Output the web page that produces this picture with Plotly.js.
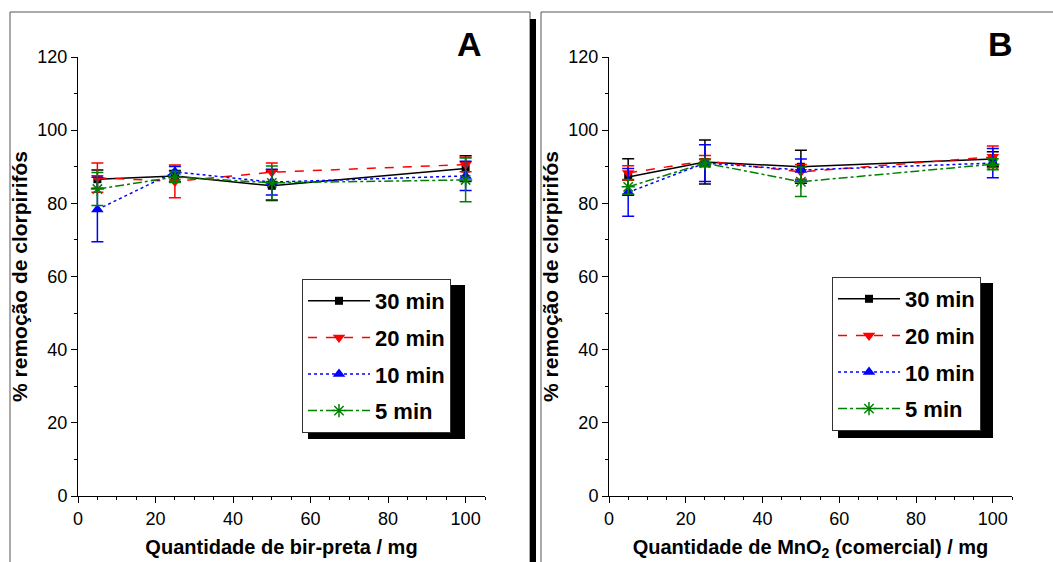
<!DOCTYPE html>
<html><head><meta charset="utf-8">
<script src="https://cdn.plot.ly/plotly-3.0.1.min.js"></script>
<style>html,body{margin:0;padding:0;background:#fff}#g{width:1053px;height:562px}</style>
</head><body><div id="g"></div>
<script>
// ---- data ----
const quantities = [5, 25, 50, 100];
const seriesNames = ['30 min', '20 min', '10 min', '5 min'];

// Panel A: bir-preta
const A_30 = [86.6, 87.5, 84.8, 89.5];
const A_30_err = [2.5, 1.5, 4.0, 3.5];
const A_20 = [87.0, 86.0, 88.5, 90.6];
const A_20_err = [4.0, 4.5, 2.5, 2.0];
const A_10 = [78.3, 88.6, 85.8, 87.5];
const A_10_err = [8.8, 1.5, 3.5, 4.0];
const A_5 = [83.9, 87.2, 85.6, 86.4];
const A_5_err = [4.5, 1.5, 4.6, 6.0];

// Panel B: MnO2 (comercial)
const B_30 = [87.2, 91.3, 90.0, 92.1];
const B_30_err = [5.0, 6.0, 4.5, 2.0];
const B_20 = [88.3, 91.6, 88.6, 92.7];
const B_20_err = [2.0, 1.5, 2.0, 3.0];
const B_10 = [83.0, 91.0, 89.1, 91.0];
const B_10_err = [6.5, 5.0, 3.0, 4.0];
const B_5 = [84.5, 91.0, 85.9, 90.7];
const B_5_err = [2.0, 1.0, 4.0, 1.5];

const xTickVals = [0, 20, 40, 60, 80, 100];
const yTickVals = [0, 20, 40, 60, 80, 100, 120];

// ---- styles ----
const styles = [
  {color: '#000000', dash: 'solid', symbol: 'square', size: 8},
  {color: '#ff0000', dash: 'dash', symbol: 'triangle-down', size: 11},
  {color: '#0000ff', dash: 'dot', symbol: 'triangle-up', size: 11},
  {color: '#008000', dash: 'dashdot', symbol: 'asterisk-open', size: 11}
];

function mk(name, y, err, st, xa, ya, legend, grp) {
  return {
    type: 'scatter', mode: 'lines+markers', name: name,
    x: quantities, y: y, xaxis: xa, yaxis: ya, legend: legend, legendgroup: grp,
    line: {color: st.color, dash: st.dash, width: 1.5},
    marker: {color: st.color, symbol: st.symbol, size: st.size,
             line: {color: st.color, width: st.symbol === 'asterisk-open' ? 1.5 : 0}},
    error_y: {type: 'data', array: err, visible: true, color: st.color, thickness: 1.5, width: 6}
  };
}

const Aser = [[A_30, A_30_err], [A_20, A_20_err], [A_10, A_10_err], [A_5, A_5_err]];
const Bser = [[B_30, B_30_err], [B_20, B_20_err], [B_10, B_10_err], [B_5, B_5_err]];
const data = [];
Aser.forEach((s, i) => data.push(mk(seriesNames[i], s[0], s[1], styles[i], 'x', 'y', 'legend', 'a' + i)));
Bser.forEach((s, i) => data.push(mk(seriesNames[i], s[0], s[1], styles[i], 'x2', 'y2', 'legend2', 'b' + i)));

const W = 1053, H = 562;
const px = v => v / W, py = v => 1 - v / H;
const FONT = 'Liberation Sans, Arial, sans-serif';
const tickFont = {family: FONT, size: 18, color: '#000'};

function xMain(domain, anchor, title) {
  return {
    domain: domain, anchor: anchor, range: [0, 105], tickvals: xTickVals,
    ticks: 'outside', ticklen: 6, tickwidth: 1, tickcolor: '#000',
    minor: {dtick: 5, ticks: 'outside', ticklen: 3, tickcolor: '#000'},
    showline: true, linecolor: '#000', linewidth: 1, showgrid: false, zeroline: false,
    tickfont: tickFont,
    title: {text: title, font: {family: FONT, size: 20, color: '#000', weight: 'bold'}, standoff: 12}
  };
}
function yMain(domain, anchor) {
  return {
    domain: domain, anchor: anchor, range: [0, 120], tickvals: yTickVals,
    ticks: 'outside', ticklen: 6, tickwidth: 1, tickcolor: '#000',
    minor: {dtick: 10, ticks: 'outside', ticklen: 3, tickcolor: '#000'},
    showline: true, linecolor: '#000', linewidth: 1, showgrid: false, zeroline: false,
    tickfont: tickFont,
    title: {text: '% remoção de clorpirifós', font: {family: FONT, size: 21, color: '#000', weight: 'bold'}, standoff: 4}
  };
}
function xTop(over, anchor) {
  return {overlaying: over, anchor: anchor, side: 'top', range: [0, 105], dtick: 5, tick0: 0,
    ticks: 'inside', ticklen: 3, tickcolor: '#000', showticklabels: false,
    showline: true, linecolor: '#000', linewidth: 1, showgrid: false, zeroline: false};
}
function yRight(over, anchor) {
  return {overlaying: over, anchor: anchor, side: 'right', range: [0, 120], dtick: 10, tick0: 0,
    ticks: 'inside', ticklen: 4, tickcolor: '#000', showticklabels: false,
    showline: true, linecolor: '#000', linewidth: 1, showgrid: false, zeroline: false};
}

const yDom = [(H - 496) / H, (H - 57) / H];
const legendStyle = (x, y) => ({
  x: x, y: y, xanchor: 'left', yanchor: 'top', bgcolor: '#fff',
  bordercolor: '#333', borderwidth: 1, tracegroupgap: 5, itemwidth: 62,
  font: {family: FONT, size: 22, color: '#000', weight: 'bold'}
});

const layout = {
  width: W, height: H, margin: {l: 0, r: 0, t: 0, b: 0},
  paper_bgcolor: '#fff', plot_bgcolor: 'rgba(0,0,0,0)', showlegend: true,
  xaxis: xMain([px(78), px(485)], 'y', 'Quantidade de bir-preta / mg'),
  yaxis: yMain(yDom, 'x'),
  xaxis2: xMain([px(609), px(1012)], 'y2', 'Quantidade de MnO<sub>2</sub> (comercial) / mg'),
  yaxis2: yMain(yDom, 'x2'),
  xaxis3: xTop('x', 'y'),
  yaxis3: yRight('y', 'x'),
  xaxis4: xTop('x2', 'y2'),
  yaxis4: yRight('y2', 'x2'),
  legend: legendStyle(px(302), py(279)),
  legend2: legendStyle(px(832), py(277)),
  shapes: [
    // panel frames
    {type: 'rect', xref: 'paper', yref: 'paper', x0: px(10), x1: px(530), y0: -0.1, y1: py(12),
     line: {color: '#555', width: 1}, fillcolor: 'rgba(0,0,0,0)', layer: 'below'},
    {type: 'rect', xref: 'paper', yref: 'paper', x0: px(530), x1: px(536), y0: -0.1, y1: py(19),
     line: {width: 0}, fillcolor: '#000', layer: 'below'},
    {type: 'rect', xref: 'paper', yref: 'paper', x0: px(541), x1: 1.1, y0: -0.1, y1: py(12),
     line: {color: '#555', width: 1}, fillcolor: 'rgba(0,0,0,0)', layer: 'below'},
    // legend shadows
    {type: 'rect', xref: 'paper', yref: 'paper', x0: px(308), x1: px(465), y0: py(439), y1: py(285),
     line: {width: 0}, fillcolor: '#000', layer: 'above'},
    {type: 'rect', xref: 'paper', yref: 'paper', x0: px(838), x1: px(993), y0: py(438), y1: py(283),
     line: {width: 0}, fillcolor: '#000', layer: 'above'}
  ],
  annotations: [
    {text: 'A', xref: 'paper', yref: 'paper', x: px(469), y: py(44), xanchor: 'center', yanchor: 'middle',
     showarrow: false, font: {family: FONT, size: 34, color: '#000', weight: 'bold'}},
    {text: 'B', xref: 'paper', yref: 'paper', x: px(1000), y: py(44), xanchor: 'center', yanchor: 'middle',
     showarrow: false, font: {family: FONT, size: 34, color: '#000', weight: 'bold'}}
  ]
};

Plotly.newPlot('g', data, layout, {staticPlot: true, displayModeBar: false});
</script></body></html>
